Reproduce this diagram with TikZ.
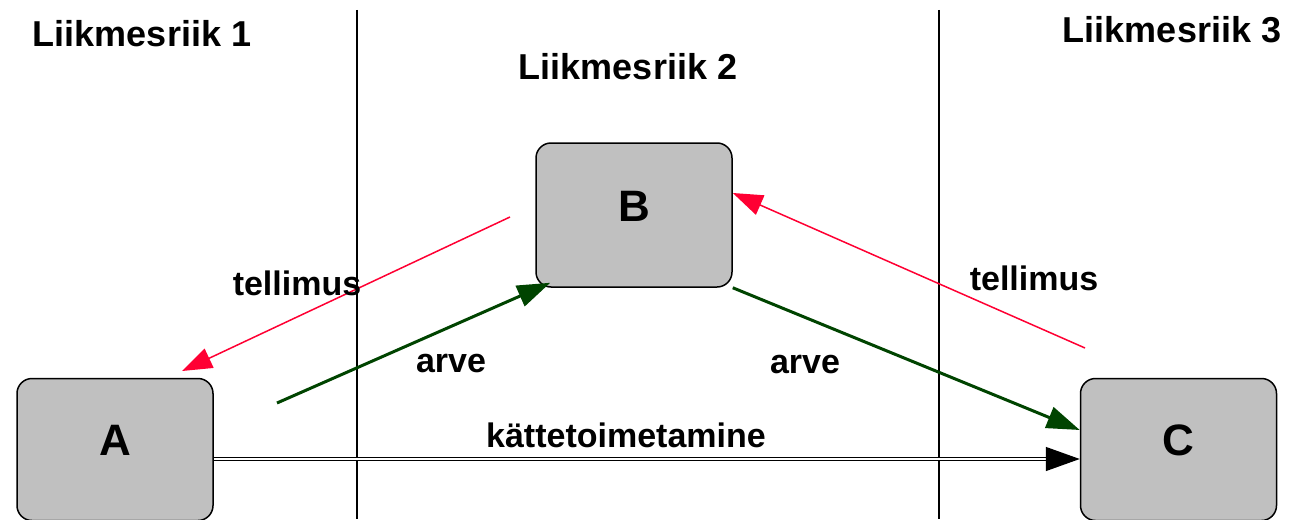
\documentclass[tikz,border=0pt]{standalone}
\usepackage{fontspec}
\setmainfont{Liberation Sans}
\usetikzlibrary{arrows.meta}
\definecolor{boxgray}{RGB}{192,192,192}
\definecolor{ordred}{RGB}{255,0,51}
\definecolor{billgreen}{RGB}{0,68,0}

\begin{document}
\begin{tikzpicture}[x=1pt, y=-1pt,
  box/.style={draw, line width=1.5pt, fill=boxgray, rounded corners=15pt,
    minimum width=196pt, minimum height=142pt, text depth=18pt,
    font=\fontsize{44}{50}\selectfont\bfseries},
  lbl/.style={anchor=base, font=\fontsize{34}{40}\selectfont\bfseries},
  riik/.style={lbl, font=\fontsize{36}{42}\selectfont\bfseries},
  order/.style={draw=ordred, fill=ordred, line width=1.5pt,
    -{Triangle[length=30pt,width=21pt]}},
  bill/.style={draw=billgreen, fill=billgreen, line width=3pt,
    -{Triangle[length=33pt,width=22pt]}}]
\useasboundingbox (0,0) rectangle (1292,519);
% country borders
\draw[line width=1.2pt] (357,10) -- (357,519);
\draw[line width=1.2pt] (939,10) -- (939,519);
\node[riik] (r1) at (142,47) {Liikmesriik 1};
\node[riik] (r2) at (628,79) {Liikmesriik 2};
\node[riik] (r3) at (1172,43) {Liikmesriik 3};
% firms
\node[box] (A) at (115,449.5) {A};
\node[box, minimum height=144pt] (B) at (634,215) {B};
\node[box] (C) at (1178.5,449.5) {C};
% flows
\coordinate (o1) at (510,217);
\coordinate (o1e) at (182,371);
\coordinate (o2) at (1085,348);
\coordinate (b1) at (277,403);
\draw[order] (o1) -- (o1e);
\draw[order] (o2) -- ([yshift=22pt]B.east);
\draw[bill] (b1) -- ([xshift=15pt,yshift=5pt]B.south west);
\draw[bill] (B.south east) -- ([yshift=19.5pt]C.west);
\draw[line width=1.4pt, double, double distance=2pt,
  -{Triangle[length=34pt,width=24pt]}] ([yshift=-9.5pt]A.east) -- ([yshift=-9.5pt]C.west);
\node[lbl] (t1) at (297,295) {tellimus};
\node[lbl] (t2) at (1034,290) {tellimus};
\node[lbl] (a1) at (451,372) {arve};
\node[lbl] (a2) at (805,373) {arve};
\node[lbl] (k) at (626,447) {kättetoimetamine};
\end{tikzpicture}
\end{document}
